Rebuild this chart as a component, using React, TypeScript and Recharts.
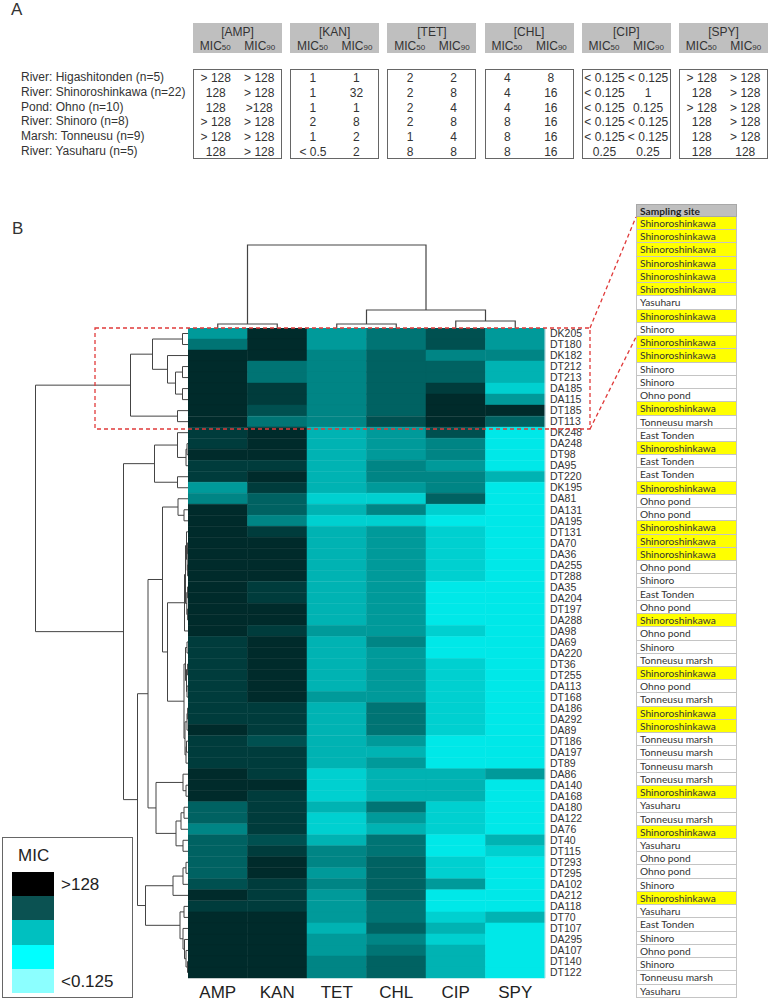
import React from "react";
import { BarChart, Bar, Cell, XAxis, YAxis, LineChart, Line } from "recharts";

// ---- panel A: MIC50 / MIC90 per sampling site ----
const siteGroups = [
  "River: Higashitonden (n=5)",
  "River: Shinoroshinkawa (n=22)",
  "Pond: Ohno (n=10)",
  "River: Shinoro (n=8)",
  "Marsh: Tonneusu (n=9)",
  "River: Yasuharu (n=5)",
];
const antibiotics = ["AMP", "KAN", "TET", "CHL", "CIP", "SPY"];
const ampMic = [["> 128", "> 128"], ["128", "> 128"], ["128", ">128"], ["> 128", "> 128"], ["> 128", "> 128"], ["128", "> 128"]];
const kanMic = [["1", "1"], ["1", "32"], ["1", "1"], ["2", "8"], ["1", "2"], ["< 0.5", "2"]];
const tetMic = [["2", "2"], ["2", "8"], ["2", "4"], ["2", "8"], ["1", "4"], ["8", "8"]];
const chlMic = [["4", "8"], ["4", "16"], ["4", "16"], ["8", "16"], ["8", "16"], ["8", "16"]];
const cipMic = [["< 0.125", "< 0.125"], ["< 0.125", "1"], ["< 0.125", "0.125"], ["< 0.125", "< 0.125"], ["< 0.125", "< 0.125"], ["0.25", "0.25"]];
const spyMic = [["> 128", "> 128"], ["128", "> 128"], ["> 128", "> 128"], ["128", "> 128"], ["128", "> 128"], ["128", "128"]];
const micCols = [ampMic, kanMic, tetMic, chlMic, cipMic, spyMic];

// ---- panel B: heatmap rows ----
const strains = [
  "DK205", "DT180", "DK182", "DT212", "DT213", "DA185", "DA115", "DT185", "DT113",
  "DK248", "DA248", "DT98", "DA95", "DT220", "DK195", "DA81", "DA131", "DA195",
  "DT131", "DA70", "DA36", "DA255", "DT288", "DA35", "DA204", "DT197", "DA288",
  "DA98", "DA69", "DA220", "DT36", "DT255", "DA113", "DT168", "DA186", "DA292",
  "DA89", "DT186", "DA197", "DT89", "DA86", "DA140", "DA168", "DA180", "DA122",
  "DA76", "DT40", "DT115", "DT293", "DT295", "DA102", "DA212", "DA118", "DT70",
  "DT107", "DA295", "DA107", "DT140", "DT122",
];

// colour level per cell, 0 = most susceptible (bright cyan) .. 9 = most resistant (dark)
const ampLv = [3, 5, 9, 9, 9, 9, 9, 9, 9, 8, 8, 9, 8, 8, 3, 4, 9, 9, 9, 9, 9, 9, 9, 9, 9, 9, 9, 9, 8, 8, 8, 8, 8, 8, 8, 8, 9, 8, 8, 8, 9, 9, 9, 6, 6, 4, 6, 6, 6, 6, 7, 9, 8, 9, 9, 9, 9, 9, 9];
const kanLv = [9, 9, 9, 5, 5, 8, 8, 7, 5, 9, 9, 9, 8, 9, 8, 6, 6, 4, 8, 9, 9, 9, 9, 8, 8, 9, 9, 8, 9, 9, 9, 9, 9, 9, 8, 8, 8, 7, 8, 8, 8, 9, 8, 8, 8, 8, 7, 8, 9, 9, 8, 8, 8, 9, 9, 9, 9, 9, 9];
const tetLv = [3, 3, 4, 4, 4, 4, 4, 4, 4, 2, 2, 2, 2, 2, 2, 1, 2, 1, 2, 2, 2, 2, 2, 2, 2, 2, 2, 3, 2, 2, 2, 2, 2, 3, 2, 2, 2, 2, 2, 2, 1, 1, 1, 2, 1, 1, 2, 4, 4, 3, 4, 3, 3, 3, 2, 3, 3, 4, 4];
const chlLv = [5, 5, 6, 6, 6, 6, 6, 6, 7, 3, 3, 3, 4, 4, 3, 1, 4, 1, 3, 3, 3, 3, 3, 3, 3, 3, 3, 3, 4, 3, 3, 3, 3, 3, 5, 5, 5, 3, 2, 3, 2, 2, 2, 5, 3, 2, 5, 5, 6, 6, 6, 6, 5, 5, 6, 4, 5, 6, 6];
const cipLv = [7, 7, 4, 6, 6, 8, 9, 9, 9, 7, 4, 4, 3, 4, 4, 6, 1, 0, 1, 1, 1, 1, 1, 0, 0, 0, 0, 1, 0, 0, 1, 1, 1, 1, 1, 1, 1, 0, 0, 0, 2, 2, 2, 1, 1, 1, 0, 0, 1, 1, 3, 0, 0, 1, 2, 1, 2, 2, 2];
const spyLv = [3, 3, 4, 2, 2, 1, 3, 9, 6, 0, 0, 0, 0, 2, 0, 0, 0, 0, 0, 0, 0, 0, 0, 0, 0, 0, 0, 0, 0, 0, 0, 0, 0, 0, 0, 0, 0, 0, 0, 0, 3, 0, 0, 0, 0, 0, 2, 1, 0, 0, 0, 0, 0, 2, 0, 0, 0, 0, 0];
const levels = [ampLv, kanLv, tetLv, chlLv, cipLv, spyLv];
const palette = ["#00e8e8", "#00d0d0", "#00b3b3", "#009a9a", "#008585", "#007474", "#006262", "#005050", "#003c3c", "#002b2b"];

// row dendrogram: [child a, child b, height]; leaves 0..58, new nodes from 59
const rowLinks = [
  [0, 1, 5.5], [3, 4, 5.5], [5, 6, 5.5], [60, 61, 12.5], [2, 62, 20.5], [59, 63, 35.5], [7, 8, 10.5], [64, 65, 57.5],
  [10, 11, 1], [67, 12, 2], [9, 68, 10.5], [13, 14, 10.5], [69, 70, 33.5],
  [16, 17, 4], [15, 72, 10],
  [19, 20, 0.4], [21, 22, 0.4], [74, 75, 0.8], [18, 76, 1.5], [23, 24, 0.4], [25, 26, 0.4], [78, 79, 1.2], [77, 80, 2.5], [81, 27, 3.5],
  [28, 29, 1], [30, 31, 0.4], [32, 33, 1], [84, 85, 1.5], [83, 86, 2.5], [34, 35, 0.4], [88, 36, 1], [37, 38, 1.5], [90, 39, 2], [89, 91, 3], [87, 92, 4],
  [82, 93, 20.5], [73, 94, 25.5],
  [41, 42, 2], [40, 96, 5], [43, 44, 4], [98, 45, 7], [46, 47, 5], [99, 100, 12], [97, 101, 32], [95, 102, 40],
  [48, 49, 2], [104, 50, 5], [105, 51, 15], [57, 58, 0.5], [56, 107, 2], [55, 108, 3.5], [54, 109, 5], [52, 53, 4], [111, 110, 8], [106, 112, 42.5],
  [103, 113, 50.5], [71, 114, 64.5], [66, 115, 152.5],
];
// column dendrogram over the six antibiotics
const colLinks = [[0, 1, 4], [2, 3, 4], [4, 5, 7], [7, 8, 18], [6, 9, 83]];

// ---- sampling site of each strain ----
const sites = [
  "Shinoroshinkawa", "Shinoroshinkawa", "Shinoroshinkawa", "Shinoroshinkawa", "Shinoroshinkawa", "Shinoroshinkawa",
  "Yasuharu", "Shinoroshinkawa", "Shinoro", "Shinoroshinkawa", "Shinoroshinkawa", "Shinoro", "Shinoro", "Ohno pond",
  "Shinoroshinkawa", "Tonneusu marsh", "East Tonden", "Shinoroshinkawa", "East Tonden", "East Tonden", "Shinoroshinkawa",
  "Ohno pond", "Ohno pond", "Shinoroshinkawa", "Shinoroshinkawa", "Shinoroshinkawa", "Ohno pond", "Shinoro", "East Tonden",
  "Ohno pond", "Shinoroshinkawa", "Ohno pond", "Shinoro", "Tonneusu marsh", "Shinoroshinkawa", "Ohno pond", "Tonneusu marsh",
  "Shinoroshinkawa", "Shinoroshinkawa", "Tonneusu marsh", "Tonneusu marsh", "Tonneusu marsh", "Tonneusu marsh",
  "Shinoroshinkawa", "Yasuharu", "Tonneusu marsh", "Shinoroshinkawa", "Yasuharu", "Ohno pond", "Ohno pond", "Shinoro",
  "Shinoroshinkawa", "Yasuharu", "East Tonden", "Shinoro", "Ohno pond", "Shinoro", "Tonneusu marsh", "Yasuharu",
];

const legendColors = ["#000000", "#0b5252", "#00c0c0", "#00ffff", "#8cffff"];

const FONT = "'Liberation Sans', Arial, sans-serif";
const HM_LEFT = 188;
const HM_TOP = 328;
const HM_W = 357;
const HM_H = 650;

function buildSegments(nLeaves: number, links: number[][], leafPos: (i: number) => number) {
  const pos: number[] = [];
  const ht: number[] = [];
  for (let i = 0; i < nLeaves; i++) {
    pos.push(leafPos(i));
    ht.push(0);
  }
  return links.map(([a, b, h]) => {
    const seg = [[ht[a], pos[a]], [h, pos[a]], [h, pos[b]], [ht[b], pos[b]]];
    pos.push((pos[a] + pos[b]) / 2);
    ht.push(h);
    return seg;
  });
}

const rowDendroData = buildSegments(strains.length, rowLinks, (i) => i + 1).flatMap((seg) => [
  ...seg.map(([h, p]) => ({ dist: h, row: p })),
  { dist: seg[0][0], row: null },
]);
const colDendroData = buildSegments(antibiotics.length, colLinks, (i) => i + 0.5).flatMap((seg) => [
  ...seg.map(([h, p]) => ({ col: p, dist: h })),
  { col: seg[0][1], dist: null },
]);
const heatRows = strains.map((s) => {
  const r: any = { strain: s };
  antibiotics.forEach((ab) => (r[ab] = 1));
  return r;
});

const noMargin = { top: 0, right: 0, bottom: 0, left: 0 };

const PanelA = () => (
  <>
    <div style={{ position: "absolute", left: 11, top: 0, fontSize: 17, color: "#333" }}>A</div>
    {siteGroups.map((s, i) => (
      <div key={s} style={{ position: "absolute", left: 21, top: 70 + i * 14.8, fontSize: 12, color: "#333", lineHeight: "15px" }}>
        {s}
      </div>
    ))}
    {antibiotics.map((ab, j) => {
      const left = 193 + j * 97.2;
      return (
        <React.Fragment key={ab}>
          <div style={{ position: "absolute", left, top: 23, width: 89, height: 30, background: "#bfbfbf", color: "#333", fontSize: 12 }}>
            <div style={{ textAlign: "center", lineHeight: "14px", marginTop: 2 }}>[{ab}]</div>
            <div style={{ display: "flex", lineHeight: "14px" }}>
              {["50", "90"].map((n) => (
                <div key={n} style={{ width: "50%", textAlign: "center" }}>
                  MIC<span style={{ fontSize: 8 }}>{n}</span>
                </div>
              ))}
            </div>
          </div>
          <div style={{ position: "absolute", left, top: 69, width: 89, height: 90, border: "1px solid #666", boxSizing: "border-box" }}>
            {micCols[j].map((pair, i) => (
              <div key={i} style={{ position: "absolute", top: 1 + i * 14.8, left: 0, width: "100%", display: "flex", fontSize: 12, color: "#333", lineHeight: "15px" }}>
                {pair.map((v, k) => (
                  <div key={k} style={{ width: "50%", textAlign: "center", whiteSpace: "nowrap" }}>{v}</div>
                ))}
              </div>
            ))}
          </div>
        </React.Fragment>
      );
    })}
  </>
);

const RowDendro = () => (
  <div style={{ position: "absolute", left: 0, top: HM_TOP }}>
    <LineChart width={HM_LEFT} height={HM_H} data={rowDendroData} margin={noMargin}>
      <XAxis type="number" dataKey="dist" domain={[0, HM_LEFT]} reversed hide />
      <YAxis type="number" domain={[0.5, 59.5]} reversed hide />
      <Line dataKey="row" stroke="#444" strokeWidth={1} dot={false} isAnimationActive={false} />
    </LineChart>
  </div>
);

const ColDendro = () => (
  <div style={{ position: "absolute", left: HM_LEFT, top: HM_TOP - 90 }}>
    <LineChart width={HM_W} height={90} data={colDendroData} margin={noMargin}>
      <XAxis type="number" dataKey="col" domain={[0, 6]} hide />
      <YAxis type="number" domain={[0, 90]} hide />
      <Line dataKey="dist" stroke="#444" strokeWidth={1.2} dot={false} isAnimationActive={false} />
    </LineChart>
  </div>
);

const Heatmap = () => (
  <div style={{ position: "absolute", left: HM_LEFT, top: HM_TOP }}>
    <BarChart width={HM_W + 52} height={HM_H + 32} data={heatRows} layout="vertical" margin={noMargin} barCategoryGap={0} barGap={0}>
      <XAxis
        type="number"
        domain={[0, 6]}
        ticks={[0.5, 1.5, 2.5, 3.5, 4.5, 5.5]}
        tickFormatter={(v: number) => antibiotics[Math.floor(v)]}
        interval={0}
        axisLine={false}
        tickLine={false}
        height={32}
        tick={{ fontSize: 17, fill: "#222" }}
      />
      <YAxis
        type="category"
        dataKey="strain"
        orientation="right"
        width={52}
        interval={0}
        tickLine={false}
        tickSize={3}
        axisLine={{ stroke: "#cfe3ea" }}
        tick={{ fontSize: 10.5, fill: "#333" }}
      />
      {antibiotics.map((ab, j) => (
        <Bar key={ab} dataKey={ab} stackId="hm" isAnimationActive={false}>
          {levels[j].map((lv, i) => (
            <Cell key={i} fill={palette[lv]} stroke={palette[lv]} strokeWidth={0.5} />
          ))}
        </Bar>
      ))}
    </BarChart>
  </div>
);

const Legend = () => (
  <div style={{ position: "absolute", left: 2, top: 837, width: 131, height: 161, border: "1px solid #666", boxSizing: "border-box", background: "#fff" }}>
    <div style={{ position: "absolute", left: 15, top: 8, fontSize: 17, color: "#222" }}>MIC</div>
    {legendColors.map((c, i) => (
      <div key={c} style={{ position: "absolute", left: 9, top: 34 + i * 24.2, width: 42, height: 24.2, background: c }} />
    ))}
    <div style={{ position: "absolute", left: 58, top: 37, fontSize: 17, color: "#222" }}>&gt;128</div>
    <div style={{ position: "absolute", left: 58, top: 134, fontSize: 17, color: "#222" }}>&lt;0.125</div>
  </div>
);

const SiteTable = () => (
  <div style={{ position: "absolute", left: 636, top: 204, width: 101, fontFamily: "Lato, sans-serif", fontSize: 10.2 }}>
    <div style={{ height: 13, background: "#bfbfbf", fontWeight: 700, color: "#222", paddingLeft: 3, lineHeight: "13px", boxSizing: "border-box", border: "1px solid #a8a8a8" }}>
      Sampling site
    </div>
    {sites.map((s, i) => (
      <div
        key={i}
        style={{
          height: 13.24,
          boxSizing: "border-box",
          background: s === "Shinoroshinkawa" ? "#ffff00" : "#fff",
          borderLeft: "1px solid #c4c4c4",
          borderRight: "1px solid #c4c4c4",
          borderBottom: "1px solid #c4c4c4",
          paddingLeft: 3,
          lineHeight: "12.5px",
          color: "#333",
          whiteSpace: "nowrap",
        }}
      >
        {s}
      </div>
    ))}
  </div>
);

const Overlay = () => (
  <svg width={771} height={1003} style={{ position: "absolute", left: 0, top: 0, pointerEvents: "none" }}>
    <g stroke="#e03a3a" strokeWidth={1.3} strokeDasharray="4 3" fill="none">
      <rect x={95} y={HM_TOP} width={495} height={101} />
      <line x1={590} y1={HM_TOP} x2={636} y2={217} />
      <line x1={590} y1={HM_TOP + 101} x2={636} y2={337} />
    </g>
  </svg>
);

export default function App() {
  return (
    <div style={{ position: "absolute", left: 0, top: 0, width: 771, height: 1003, fontFamily: FONT, background: "#fff", overflow: "hidden" }}>
      <PanelA />
      <div style={{ position: "absolute", left: 12, top: 219, fontSize: 17, color: "#333" }}>B</div>
      <ColDendro />
      <RowDendro />
      <Heatmap />
      <Legend />
      <SiteTable />
      <Overlay />
    </div>
  );
}
